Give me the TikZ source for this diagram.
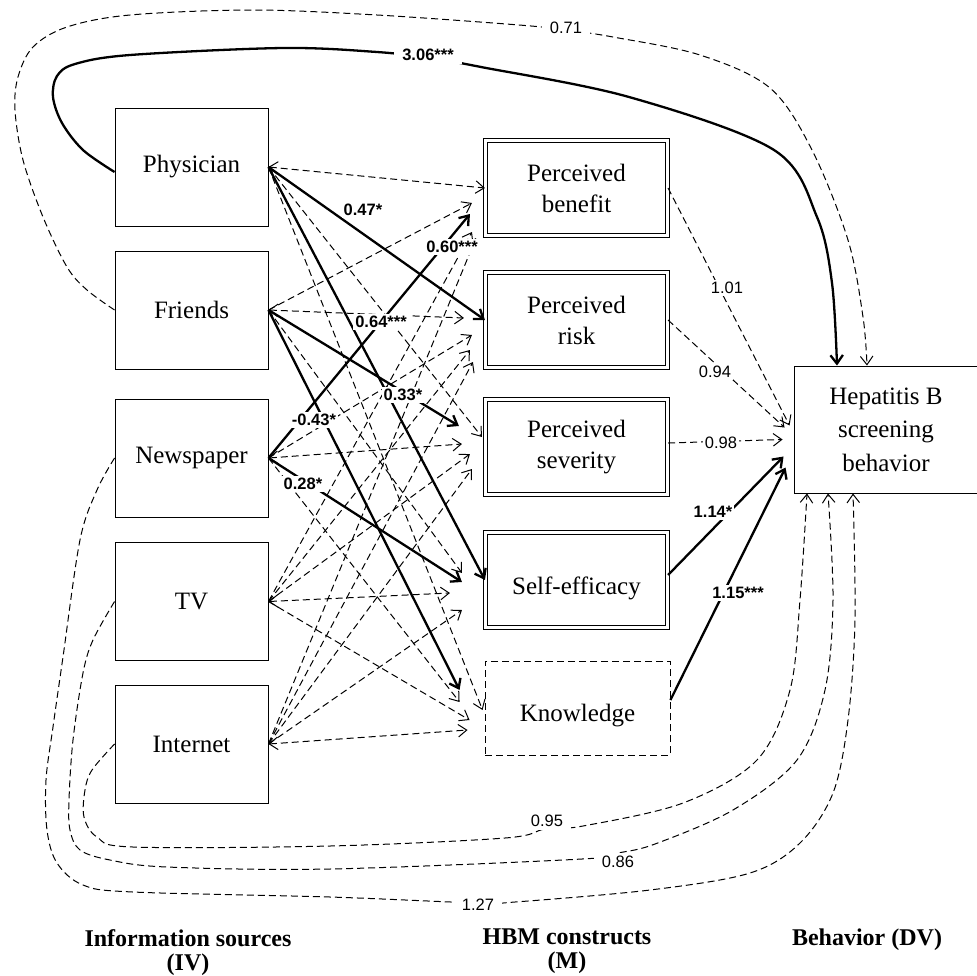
\documentclass[tikz,border=0pt]{standalone}
\usepackage{fontspec}
\setmainfont{Liberation Serif}
\setsansfont{Liberation Sans}
\usetikzlibrary{arrows.meta}
\begin{document}
\begin{tikzpicture}[x=1pt,y=-1pt,
  >={Straight Barb[length=8.5pt,width=12.5pt]},
  srcbox/.style={draw, line width=0.9pt, minimum width=153pt, minimum height=118pt, inner sep=0pt, font=\fontsize{25}{33}\selectfont, align=center},
  medbox/.style={draw, line width=1.1pt, double=white, double distance=2.4pt, minimum width=182pt, minimum height=95pt, inner sep=0pt, font=\fontsize{25}{31}\selectfont, align=center},
  knowbox/.style={draw, line width=0.9pt, dash pattern=on 7pt off 4pt, minimum width=185pt, minimum height=94pt, inner sep=0pt, font=\fontsize{25}{31}\selectfont, align=center},
  hepbox/.style={draw, line width=0.9pt, minimum width=184pt, minimum height=127pt, inner sep=0pt, font=\fontsize{25}{33.5}\selectfont, align=center},
  dsh/.style={line width=1pt, dash pattern=on 7pt off 4pt},
  sld/.style={line width=2.3pt},
  lab/.style={fill=white, inner sep=2pt, font=\fontsize{16.5}{16.5}\selectfont\sffamily},
  blab/.style={fill=white, inner sep=2pt, font=\fontsize{16.5}{16.5}\selectfont\sffamily\bfseries},
  clab/.style={fill=white, inner xsep=8pt, inner ysep=3pt, font=\fontsize{16.5}{16.5}\selectfont\sffamily},
  cblab/.style={fill=white, inner xsep=8pt, inner ysep=3pt, font=\fontsize{16.5}{16.5}\selectfont\sffamily\bfseries},
  ttl/.style={font=\fontsize{24}{24}\selectfont\bfseries, align=center, inner sep=0pt}
]
\useasboundingbox (0,0) rectangle (977,975);

% sources
\node[srcbox] (phys) at (191.5,167) {Physician};
\node[srcbox] (fri) at (191.5,310) {Friends};
\node[srcbox] (news) at (191.5,458) {Newspaper};
\node[srcbox] (tv) at (191.5,601.5) {TV};
\node[srcbox] (int) at (191.5,744) {Internet};

% mediators
\node[medbox] (ben) at (576.5,188) {Perceived\\benefit};
\node[medbox] (risk) at (576.5,320) {Perceived\\risk};
\node[medbox] (sev) at (576.5,447) {Perceived\\severity};
\node[medbox] (self) at (576.5,580) {\raisebox{-8pt}[\height][\depth]{Self-efficacy}};
\node[knowbox] (know) at (577.5,708) {\raisebox{-8pt}[\height][\depth]{Knowledge}};

% outcome
\node[hepbox] (hep) at (886,429.5) {Hepatitis B\\screening\\behavior};

% source -> benefit
\draw[dsh,<->] (phys.east) -- (ben.west);
\draw[dsh,->] (fri.east) -- ([xshift=-13pt,yshift=-15pt]ben.west);
\draw[sld,->] (news.east) -- ([xshift=-15pt,yshift=-26pt]ben.west);
\draw[dsh,->] (tv.east) -- ([xshift=-13pt,yshift=-44pt]ben.west);
\draw[dsh,->] (int.east) -- ([xshift=-9pt,yshift=-50pt]ben.west);
% source -> risk
\draw[sld,->] (phys.east) -- (risk.west);
\draw[dsh,<->] (fri.east) -- ([xshift=-21pt,yshift=2pt]risk.west);
\draw[dsh,->] (news.east) -- ([xshift=-13pt,yshift=-15pt]risk.west);
\draw[dsh,->] (tv.east) -- ([xshift=-15pt,yshift=-30pt]risk.west);
\draw[dsh,->] (int.east) -- ([xshift=-12pt,yshift=-42pt]risk.west);
% source -> severity
\draw[dsh,->] (phys.east) -- ([xshift=-3pt,yshift=10pt]sev.west);
\draw[sld,->] (fri.east) -- ([xshift=-26pt,yshift=21pt]sev.west);
\draw[dsh,<->] (news.east) -- ([xshift=-23pt,yshift=3pt]sev.west);
\draw[dsh,->] (tv.east) -- ([xshift=-15pt,yshift=-7pt]sev.west);
\draw[dsh,->] (int.east) -- ([xshift=-13pt,yshift=-22pt]sev.west);
% source -> self-efficacy
\draw[sld,->] (phys.east) -- (self.west);
\draw[dsh,->] (fri.east) -- ([xshift=-23pt,yshift=7pt]self.west);
\draw[sld,->] (news.east) -- ([xshift=-23pt,yshift=-2pt]self.west);
\draw[dsh,<->] (tv.east) -- ([xshift=-35pt,yshift=-13pt]self.west);
\draw[dsh,->] (int.east) -- ([xshift=-23pt,yshift=-30pt]self.west);
% source -> knowledge
\draw[dsh,->] (phys.east) -- ([xshift=-2pt,yshift=-2pt]know.west);
\draw[sld,->] (fri.east) -- ([xshift=-25pt,yshift=18pt]know.west);
\draw[dsh,->] (news.east) -- ([xshift=-25pt,yshift=6pt]know.west);
\draw[dsh,->] (tv.east) -- ([xshift=-15pt,yshift=-12pt]know.west);
\draw[dsh,<->] (int.east) -- ([xshift=-17pt,yshift=-22pt]know.west);

% mediators -> outcome
\draw[dsh,->] (ben.east) -- ([xshift=-4pt,yshift=4pt]hep.west);
\draw[dsh,->] (risk.east) -- ([xshift=-9pt,yshift=2pt]hep.west);
\draw[dsh,->] ([yshift=4pt]sev.east) -- ([xshift=-11pt,yshift=-10pt]hep.west);
\draw[sld,->] ([yshift=5pt]self.east) -- ([xshift=-10pt,yshift=-27pt]hep.west);
\draw[sld,->] ([yshift=8pt]know.east) -- ([xshift=-8pt,yshift=-38pt]hep.west);

% direct paths (top)
\draw[sld,->] plot[smooth,tension=0.55] coordinates {([yshift=-5pt]phys.west) (83,150) (62,123) (53,97) (57,76) (75,64) (130,55) (283,48) (377,52) (430,58) (481,67) (629,97) (774,150) (817,217) (832,283) ([xshift=-49pt]hep.north)};
\draw[dsh,->] plot[smooth,tension=0.55] coordinates {(fri.west) (87,290) (67,267) (43,217) (23,160) (15,110) (18,77) (33,47) (67,27) (130,15) (252,10) (377,15) (519,25) (566,30) (613,37) (700,55) (770,88) (812,150) (848,240) (863,317) ([xshift=-19pt]hep.north)};
% direct paths (bottom)
\draw[dsh,->] plot[smooth,tension=0.55] coordinates {(news.west) (97,490) (80,540) (63,657) (53,727) (46,780) (47,830) (57,863) (83,885) (133,892) (330,897) (478,903) (515,902) (650,890) (750,873) (800,843) (833,793) (848,720) (855,620) ([xshift=-33pt]hep.south)};
\draw[dsh,->] plot[smooth,tension=0.55] coordinates {(tv.west) (93,640) (83,673) (73,740) (69,800) (70,830) (80,850) (110,860) (167,867) (330,869) (582,859) (618,853) (655,844) (733,810) (797,760) (825,690) (833,600) ([xshift=-58pt]hep.south)};
\draw[dsh,->] plot[smooth,tension=0.55] coordinates {(int.west) (92,770) (85,790) (84,817) (97,837) (133,847) (330,846) (505,838) (545,829) (583,826) (683,803) (757,760) (790,690) (800,600) ([xshift=-79pt]hep.south)};

% labels
\node[blab] (l047) at (363,210) {0.47*};
\node[blab] (l060) at (452,247) {0.60***};
\node[blab] (l064) at (381,322) {0.64***};
\node[blab] (l033) at (403,395) {0.33*};
\node[blab] (l043) at (314,420) {-0.43*};
\node[blab] (l028) at (303,484) {0.28*};
\node[lab] (l101) at (727,288) {1.01};
\node[lab] (l094) at (715,372) {0.94};
\node[lab] (l098) at (721,443) {0.98};
\node[blab] (l114) at (713,512) {1.14*};
\node[blab] (l115) at (738,593) {1.15***};
\node[cblab] (l306) at (428,55) {3.06***};
\node[clab] (l071) at (566,28) {0.71};
\node[clab] (l127) at (478,905) {1.27};
\node[clab] (l086) at (618,862) {0.86};
\node[clab] (l095) at (547,821) {0.95};

% titles
\node[ttl, anchor=north] (t1) at (188,929) {Information sources\\(IV)};
\node[ttl, anchor=north] (t2) at (567,929) {HBM constructs\\(M)};
\node[ttl, anchor=north] (t3) at (867,929) {Behavior (DV)};
\end{tikzpicture}
\end{document}
